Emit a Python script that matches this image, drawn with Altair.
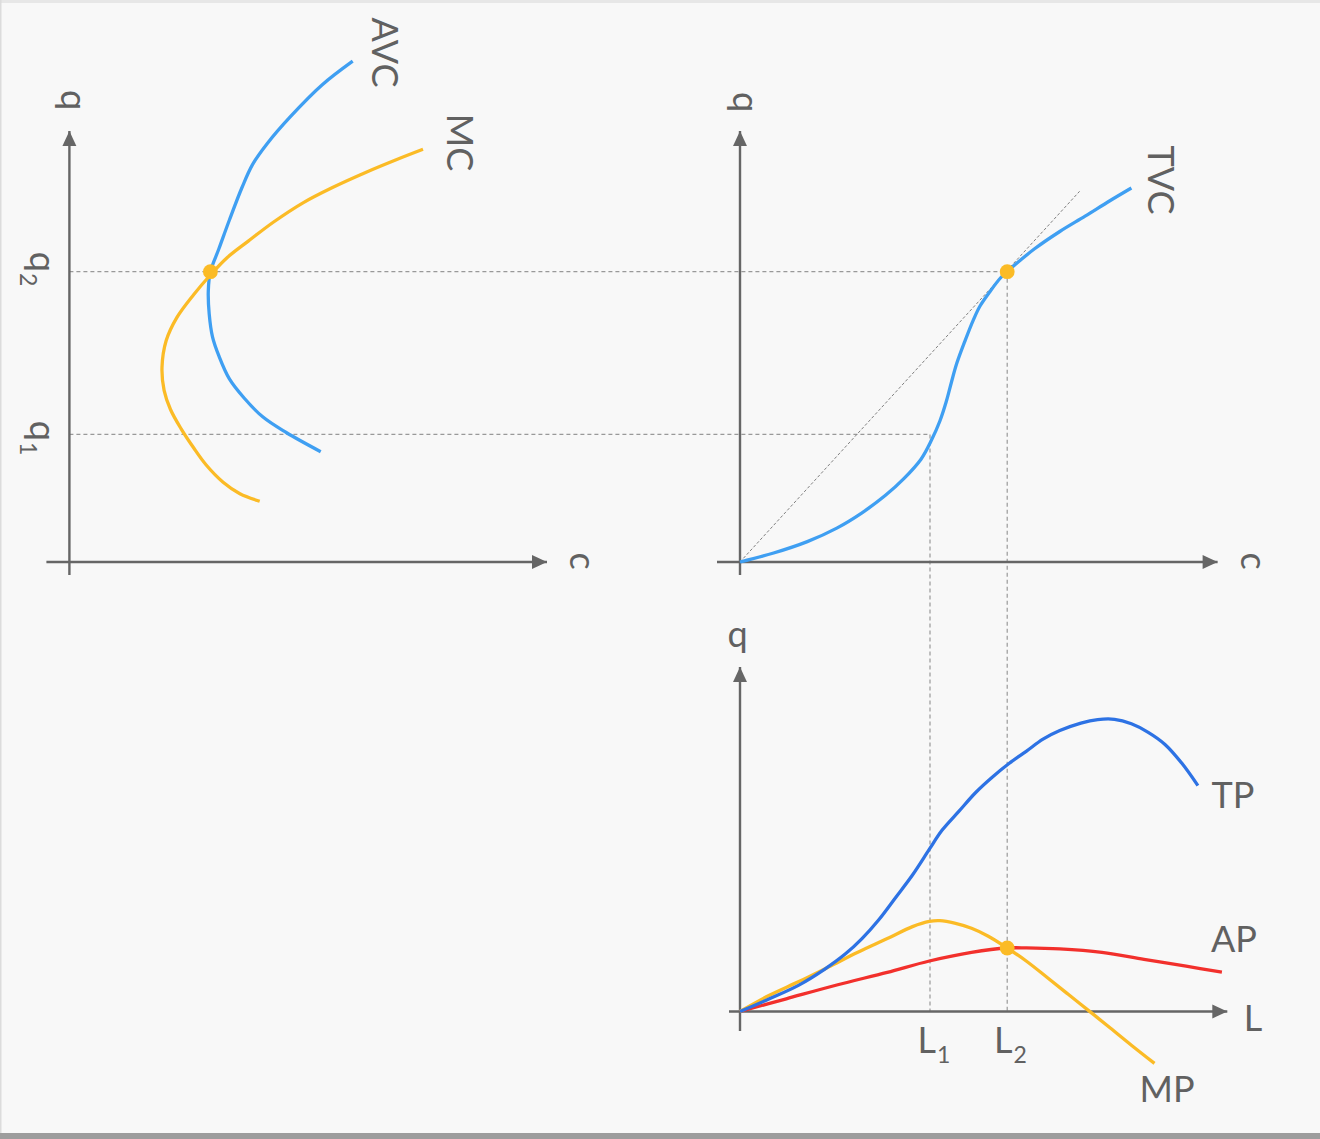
import altair as alt
import pandas as pd

W, H = 1320, 1139

# Where each panel's axes cross, in canvas units (y grows downward on the canvas)
ORIGINS = {
    "cost": (69.4, 562.0),       # AVC and MC against q
    "tvc": (740.0, 562.0),       # total variable cost against q
    "product": (740.0, 1011.5),  # TP, AP and MP against L
}

# Quantities shared between panels (local units, q and output measured upward)
Q1, Q2 = 127.6, 290.3
L1, L2 = 190.0, 267.2
AVC_MIN_C = 141.0
AP_MAX = 63.5

# ---- curves (local panel coordinates) ----
AVC_C = [283.3, 252.6, 221.0, 197.9, 183.1, 172.6, 160.0, 149.5, 141.0, 138.9,
         139.8, 143.1, 149.5, 160.0, 174.7, 193.6, 216.8, 251.3]
AVC_Q = [500.8, 477.0, 445.3, 418.5, 397.4, 374.5, 342.0, 313.2, 290.3, 271.1,
         248.2, 225.2, 206.1, 183.1, 164.0, 144.9, 129.5, 110.3]

MC_C = [353.6, 326.2, 296.8, 263.1, 233.6, 204.2, 178.9, 157.9, 141.0, 124.2,
        107.4, 96.8, 92.6, 94.7, 101.1, 111.6, 124.2, 136.8, 153.7, 170.5, 190.3]
MC_Q = [412.7, 402.0, 389.8, 374.5, 359.2, 340.0, 320.9, 304.5, 287.0, 267.3,
        244.4, 221.4, 194.6, 171.6, 152.5, 133.4, 114.2, 97.0, 79.8, 68.3, 60.7]

TVC_C = [0.0, 33.6, 67.3, 96.8, 122.0, 145.2, 164.1, 181.0, 191.5, 199.9, 206.2,
         211.3, 216.7, 225.1, 233.5, 239.9, 250.4, 260.9, 267.2, 273.5, 294.6,
         319.8, 345.1, 370.3, 391.4]
TVC_Q = [0.0, 9.0, 20.4, 33.9, 49.2, 66.4, 83.6, 102.8, 121.9, 141.0, 160.2,
         179.3, 198.4, 221.4, 242.4, 255.8, 271.1, 284.5, 290.3, 296.0, 313.2,
         330.5, 345.8, 361.5, 374.0]

TP_L = [0.0, 29.4, 58.9, 84.1, 105.2, 122.0, 138.8, 155.7, 172.5, 189.4, 202.0,
        218.8, 235.7, 252.5, 269.3, 286.2, 303.0, 319.8, 340.9, 357.7, 374.5,
        391.4, 408.2, 425.0, 441.9, 457.9]
TP_Q = [0.0, 12.7, 26.4, 41.9, 57.4, 72.9, 91.8, 114.1, 136.5, 162.3, 181.2,
        200.1, 219.0, 234.5, 248.2, 260.2, 272.3, 280.9, 288.4, 291.9, 292.2,
        287.7, 279.2, 267.1, 248.2, 225.9]

MP_L = [0.0, 29.4, 58.9, 88.4, 117.8, 147.3, 172.5, 189.4, 199.9, 214.6, 231.5,
        248.3, 267.2, 286.2, 307.2, 328.2, 349.3, 370.3, 391.4, 414.5]
MP_Q = [0.0, 16.2, 29.9, 44.4, 59.2, 72.9, 84.9, 90.1, 90.8, 88.4, 83.2, 75.3,
        63.5, 50.5, 34.0, 17.2, 0.4, -16.5, -33.7, -51.9]

AP_L = [0.0, 46.3, 96.8, 147.3, 189.4, 231.5, 267.2, 286.2, 319.8, 361.9,
        404.0, 446.1, 481.9]
AP_Q = [0.0, 12.7, 26.5, 39.2, 50.5, 59.1, 63.5, 63.6, 62.6, 59.1, 52.2, 45.3,
        39.4]

CURVES = [
    ("AVC", "cost", AVC_C, AVC_Q),
    ("MC", "cost", MC_C, MC_Q),
    ("TVC", "tvc", TVC_C, TVC_Q),
    ("AP", "product", AP_L, AP_Q),
    ("MP", "product", MP_L, MP_Q),
    ("TP", "product", TP_L, TP_Q),
]
CURVE_COLORS = {
    "AVC": "#3f9ff2", "TVC": "#3f9ff2", "TP": "#2d72e4",
    "MC": "#fbbb26", "MP": "#fbbb26", "AP": "#f2302c",
}

# Axis extents per panel: (x start, x arrow tip, y start, y arrow tip)
AXES = {
    "cost": (-23.0, 477.6, -13.0, 431.0),
    "tvc": (-23.0, 477.6, -13.0, 431.0),
    "product": (-11.0, 487.3, -19.5, 344.5),
}

# Labels: (panel, x, y, text, subscript, angle)
LABELS = [
    ("cost", -8.4, 462.0, "q", "", 90),
    ("cost", 302.6, 509.5, "AVC", "", 90),
    ("cost", 377.6, 419.5, "MC", "", 90),
    ("cost", 500.6, 1.0, "c", "", 90),
    ("cost", -39.4, 290.0, "q", "2", 90),
    ("cost", -39.4, 121.0, "q", "1", 90),
    ("tvc", -7.5, 460.0, "q", "", 90),
    ("tvc", 408.0, 382.0, "TVC", "", 90),
    ("tvc", 501.0, 1.0, "c", "", 90),
    ("product", -2.5, 364.5, "q", "", 0),
    ("product", 513.0, -19.5, "L", "", 0),
    ("product", 493.0, 203.5, "TP", "", 0),
    ("product", 494.0, 59.5, "AP", "", 0),
    ("product", 427.0, -90.5, "MP", "", 0),
    ("product", 196.0, -41.5, "L", "1", 0),
    ("product", 272.5, -41.5, "L", "2", 0),
]


def to_canvas(panel, x, y):
    ox, oy = ORIGINS[panel]
    return ox + x, oy - y


# ---- tables ----
curve_rows = []
for name, panel, xs, ys in CURVES:
    for i, (x, y) in enumerate(zip(xs, ys)):
        gx, gy = to_canvas(panel, x, y)
        curve_rows.append({"curve": name, "i": i, "gx": gx, "gy": gy})
curves_df = pd.DataFrame(curve_rows)

axis_rows, up_tips, right_tips = [], [], []
for panel, (x0, x1, y0, y1) in AXES.items():
    a, b = to_canvas(panel, x0, 0)
    c, d = to_canvas(panel, x1, 0)
    axis_rows.append({"gx": a, "gy": b, "gx2": c, "gy2": d})
    right_tips.append({"gx": c, "gy": d})
    a, b = to_canvas(panel, 0, y0)
    c, d = to_canvas(panel, 0, y1)
    axis_rows.append({"gx": a, "gy": b, "gx2": c, "gy2": d})
    up_tips.append({"gx": c, "gy": d})
axes_df = pd.DataFrame(axis_rows)
up_df = pd.DataFrame(up_tips)
right_df = pd.DataFrame(right_tips)


def segment(p0, p1):
    a, b = to_canvas(*p0)
    c, d = to_canvas(*p1)
    return {"gx": a, "gy": b, "gx2": c, "gy2": d}


guides_df = pd.DataFrame([
    segment(("cost", 0, Q2), ("tvc", L2, Q2)),
    segment(("cost", 0, Q1), ("tvc", L1, Q1)),
    segment(("tvc", L1, Q1), ("product", L1, 0)),
    segment(("tvc", L2, Q2), ("product", L2, 0)),
])
diag_df = pd.DataFrame([segment(("tvc", 0, 0), ("tvc", 339.6, 370.7))])

point_rows = []
for panel, x, y in [("cost", AVC_MIN_C, Q2), ("tvc", L2, Q2), ("product", L2, AP_MAX)]:
    gx, gy = to_canvas(panel, x, y)
    point_rows.append({"gx": gx, "gy": gy})
points_df = pd.DataFrame(point_rows)

label_rows = []
for panel, x, y, text, sub, angle in LABELS:
    gx, gy = to_canvas(panel, x, y)
    label_rows.append({"gx": gx, "gy": gy, "text": text, "sub": sub, "angle": angle})
labels_df = pd.DataFrame(label_rows)
plain_df = labels_df[labels_df["sub"] == ""]
subbed_df = labels_df[labels_df["sub"] != ""]

# ---- encodings ----
X = alt.X("gx:Q", scale=alt.Scale(domain=[0, W], nice=False, zero=False), axis=None)
Y = alt.Y("gy:Q", scale=alt.Scale(domain=[0, H], reverse=True, nice=False, zero=False), axis=None)
X2 = alt.X2("gx2:Q")
Y2 = alt.Y2("gy2:Q")
ANGLE = alt.Angle("angle:Q", scale=None)

AXIS_GREY = "#666666"
TEXT_GREY = "#616161"
FONT = "Lato"

frame_df = pd.DataFrame([{"k": 0}])
frame_top = alt.Chart(frame_df).mark_rect(color="#e7e7e7").encode(
    x=alt.value(0), x2=alt.value(W), y=alt.value(0), y2=alt.value(3))
frame_left = alt.Chart(frame_df).mark_rect(color="#dcdcdc").encode(
    x=alt.value(0), x2=alt.value(1.5), y=alt.value(0), y2=alt.value(H))
frame_bottom = alt.Chart(frame_df).mark_rect(color="#9d9d9d").encode(
    x=alt.value(0), x2=alt.value(W), y=alt.value(1133), y2=alt.value(H))

axes = alt.Chart(axes_df).mark_rule(color=AXIS_GREY, strokeWidth=2.4).encode(x=X, y=Y, x2=X2, y2=Y2)
up_arrows = alt.Chart(up_df).mark_point(
    shape="M0,0L0.93,2L-0.93,2Z", size=225, filled=True, opacity=1, color=AXIS_GREY
).encode(x=X, y=Y)
right_arrows = alt.Chart(right_df).mark_point(
    shape="M0,0L-2,-0.93L-2,0.93Z", size=225, filled=True, opacity=1, color=AXIS_GREY
).encode(x=X, y=Y)

guides = alt.Chart(guides_df).mark_rule(
    color="#999999", strokeWidth=1.2, strokeDash=[4, 3]
).encode(x=X, y=Y, x2=X2, y2=Y2)
diagonal = alt.Chart(diag_df).mark_rule(
    color="#808080", strokeWidth=1, strokeDash=[3, 2]
).encode(x=X, y=Y, x2=X2, y2=Y2)

lines = alt.Chart(curves_df).mark_line(
    strokeWidth=3.3, interpolate="catmull-rom", strokeCap="butt"
).encode(
    x=X, y=Y, order="i:Q",
    color=alt.Color("curve:N", legend=None,
                    scale=alt.Scale(domain=list(CURVE_COLORS), range=list(CURVE_COLORS.values()))),
)

points = alt.Chart(points_df).mark_circle(size=220, opacity=1, color="#fbbb26").encode(x=X, y=Y)

plain_text = alt.Chart(plain_df).mark_text(
    font=FONT, fontSize=36, color=TEXT_GREY, align="center", baseline="alphabetic"
).encode(x=X, y=Y, text="text:N", angle=ANGLE)
main_text = alt.Chart(subbed_df).mark_text(
    font=FONT, fontSize=36, color=TEXT_GREY, align="right", baseline="alphabetic"
).encode(x=X, y=Y, text="text:N", angle=ANGLE)
sub_text = alt.Chart(subbed_df).mark_text(
    font=FONT, fontSize=23, color=TEXT_GREY, align="left", baseline="alphabetic", dx=1, dy=10
).encode(x=X, y=Y, text="sub:N", angle=ANGLE)

chart = alt.layer(
    frame_top, frame_left, frame_bottom,
    guides, diagonal, axes, up_arrows, right_arrows,
    lines, points, plain_text, main_text, sub_text,
).properties(
    width=W, height=H, padding=0, background="#f8f8f8",
    autosize=alt.AutoSizeParams(type="none"),
).configure_view(strokeWidth=0)

chart.save("out.html", embed_options={"renderer": "svg", "actions": False})
